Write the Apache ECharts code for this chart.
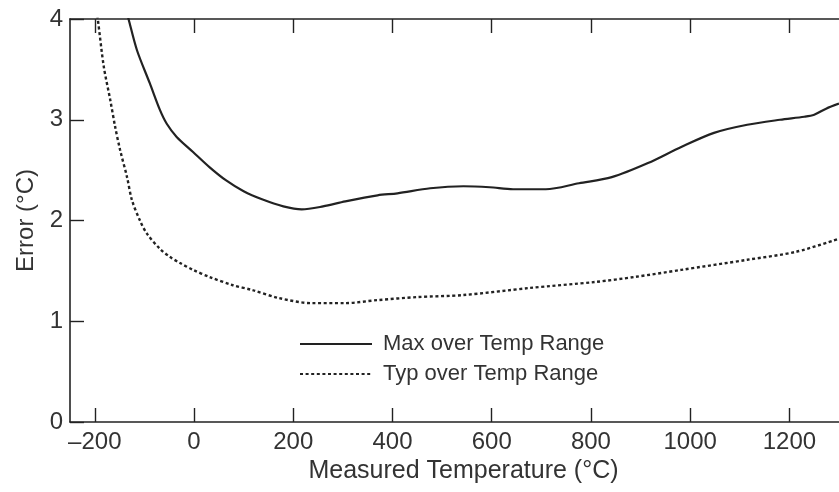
<!DOCTYPE html>
<html>
<head>
<meta charset="utf-8">
<script src="https://cdn.jsdelivr.net/npm/echarts@6/dist/echarts.min.js"></script>
<style>
html,body{margin:0;padding:0;background:#fff;}
#c{width:839px;height:492px;}
</style>
</head>
<body>
<div id="c"></div>
<script>
// Data
const xTicks = [-200, 0, 200, 400, 600, 800, 1000, 1200];
const yTicks = [0, 1, 2, 3, 4];
const seriesNames = ['Max over Temp Range', 'Typ over Temp Range'];

const maxTemp = [-140, -132, -115, -89, -69, -55, -35, -2, 31, 64, 100, 137, 180, 217, 260, 305, 370, 410, 476, 543, 596, 643, 709, 776, 842, 915, 982, 1048, 1115, 1181, 1230, 1250, 1274, 1300];
const maxErr  = [4.15, 4.0, 3.69, 3.36, 3.10, 2.96, 2.83, 2.68, 2.53, 2.40, 2.29, 2.21, 2.14, 2.11, 2.14, 2.19, 2.25, 2.27, 2.32, 2.34, 2.33, 2.31, 2.31, 2.37, 2.43, 2.57, 2.73, 2.87, 2.95, 3.00, 3.03, 3.05, 3.11, 3.16];

const typTemp = [-200, -194, -182, -169, -159, -149, -135, -125, -109, -95, -69, -49, -29, -2, 31, 77, 117, 171, 237, 304, 370, 450, 543, 676, 809, 889, 982, 1115, 1214, 1300];
const typErr  = [4.2, 4.0, 3.53, 3.20, 2.93, 2.70, 2.43, 2.20, 2.00, 1.87, 1.72, 1.64, 1.58, 1.51, 1.44, 1.36, 1.31, 1.23, 1.18, 1.18, 1.21, 1.24, 1.26, 1.33, 1.39, 1.44, 1.51, 1.61, 1.69, 1.82];

const pair = (xs, ys) => xs.map((x, i) => [x, ys[i]]);

const ink = '#222';
const txt = '#333';
const font = 'Liberation Sans, Arial, Helvetica, sans-serif';

const chart = echarts.init(document.getElementById('c'), null, {renderer: 'canvas'});
chart.setOption({
  animation: false,
  backgroundColor: '#fff',
  grid: {left: 70, top: 19, right: -7, bottom: 70, containLabel: false},
  legend: {
    orient: 'vertical',
    left: 299,
    top: 333,
    itemWidth: 72,
    itemHeight: 14,
    itemGap: 8,
    padding: 0,
    selectedMode: false,
    itemStyle: {opacity: 0},
    textStyle: {fontFamily: font, fontSize: 22, color: txt, padding: [0, 0, 0, 6]},
    data: seriesNames
  },
  xAxis: [{
    type: 'value', position: 'bottom', min: -250, max: 1300,
    axisLine: {show: true, onZero: false, lineStyle: {color: ink, width: 1.6}},
    axisTick: {show: true, inside: true, length: 14, customValues: xTicks, lineStyle: {color: ink, width: 1.4}},
    axisLabel: {show: true, customValues: xTicks, margin: 8, fontFamily: font, fontSize: 24, color: txt,
      formatter: v => String(v).replace('-', '\u2013')},
    splitLine: {show: false},
    name: 'Measured Temperature (\u00B0C)', nameLocation: 'middle', nameGap: 34,
    nameTextStyle: {fontFamily: font, fontSize: 25, color: txt, padding: [0, 0, 0, 18]}
  }, {
    type: 'value', position: 'top', min: -250, max: 1300,
    axisLine: {show: true, onZero: false, lineStyle: {color: ink, width: 1.6}},
    axisTick: {show: true, inside: true, length: 14, customValues: xTicks, lineStyle: {color: ink, width: 1.4}},
    axisLabel: {show: false},
    splitLine: {show: false}
  }],
  yAxis: [{
    type: 'value', min: 0, max: 4, interval: 1,
    axisLine: {show: true, onZero: false, lineStyle: {color: ink, width: 1.6}},
    axisTick: {show: true, inside: true, length: 14, lineStyle: {color: ink, width: 1.4}},
    axisLabel: {show: true, margin: 7, fontFamily: font, fontSize: 24, color: txt,
      customValues: yTicks},
    splitLine: {show: false},
    name: 'Error (\u00B0C)', nameLocation: 'middle', nameGap: 32,
    nameTextStyle: {fontFamily: font, fontSize: 24, color: txt}
  }],
  series: [{
    name: seriesNames[0], type: 'line', xAxisIndex: 0, yAxisIndex: 0,
    data: pair(maxTemp, maxErr),
    showSymbol: false, symbol: 'none', smooth: 0.3, clip: true,
    lineStyle: {color: ink, width: 2.2, type: 'solid'}, itemStyle: {color: ink}
  }, {
    name: seriesNames[1], type: 'line', xAxisIndex: 0, yAxisIndex: 0,
    data: pair(typTemp, typErr),
    showSymbol: false, symbol: 'none', smooth: 0.3, clip: true,
    lineStyle: {color: ink, width: 2.4, type: [3, 2.6]}, itemStyle: {color: ink}
  }]
});
</script>
</body>
</html>
